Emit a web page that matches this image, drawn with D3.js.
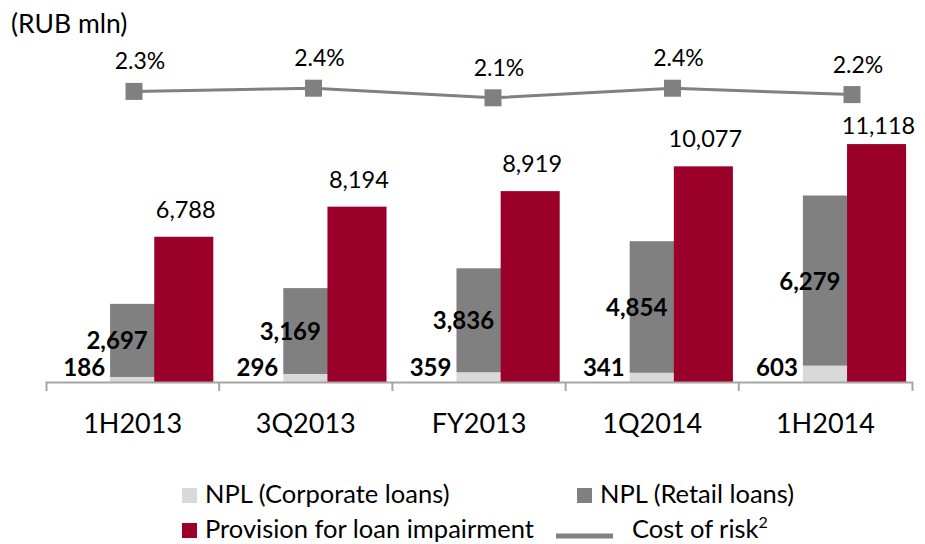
<!DOCTYPE html>
<html>
<head>
<meta charset="utf-8">
<script src="https://cdn.jsdelivr.net/npm/d3@7"></script>
<style>
  body { margin: 0; background: #fff; }
  svg { font-family: Lato, "Open Sans", sans-serif; }
</style>
</head>
<body>
<svg id="chart" width="925" height="544"></svg>
<script>
// values
var categories = ["1H2013", "3Q2013", "FY2013", "1Q2014", "1H2014"];
var nplCorporate = [186, 296, 359, 341, 603];
var nplRetail = [2697, 3169, 3836, 4854, 6279];
var provision = [6788, 8194, 8919, 10077, 11118];
var costOfRisk = [2.3, 2.4, 2.1, 2.4, 2.2];

var colCorp = "#d9d9d9";
var colRetail = "#808080";
var colProv = "#9a0029";
var colLine = "#808080";
var fmt = d3.format(",");

var svg = d3.select("#chart");

var x = d3.scaleBand().domain(categories).range([46, 912]);
var bw = x.bandwidth();
// provisions and NPL sit on two different value axes in the original
var yProv = d3.scaleLinear().domain([0, 12000]).range([382, 125.2]);
var yNpl = d3.scaleLinear().domain([0, 8000]).range([382, 165.2]);
// cost of risk line is on its own secondary axes
var xLine = d3.scalePoint().domain(categories).range([134, 852]);
var yCor = d3.scaleLinear().domain([2.0, 2.5]).range([101, 85]);

var rows = categories.map(function(c, i) {
    return {cat: c, corp: nplCorporate[i], retail: nplRetail[i], prov: provision[i], cor: costOfRisk[i]};
});

svg.append("text").attr("x", 11).attr("y", 33)
    .style("font-size", "26.5px").text("(RUB mln)");

// NPL stacked bars
var g = svg.append("g");
g.selectAll(".corp").data(rows).enter().append("rect")
    .attr("x", function(d) { return x(d.cat) + bw * 0.37; })
    .attr("width", bw * 0.26)
    .attr("y", function(d) { return yNpl(d.corp); })
    .attr("height", function(d) { return yNpl(0) - yNpl(d.corp); })
    .attr("fill", colCorp);

g.selectAll(".retail").data(rows).enter().append("rect")
    .attr("x", function(d) { return x(d.cat) + bw * 0.37; })
    .attr("width", bw * 0.26)
    .attr("y", function(d) { return yNpl(d.corp + d.retail); })
    .attr("height", function(d) { return yNpl(d.corp) - yNpl(d.corp + d.retail); })
    .attr("fill", colRetail);

g.selectAll(".prov").data(rows).enter().append("rect")
    .attr("x", function(d) { return x(d.cat) + bw * 0.625; })
    .attr("width", bw * 0.341)
    .attr("y", function(d) { return yProv(d.prov); })
    .attr("height", function(d) { return yProv(0) - yProv(d.prov); })
    .attr("fill", colProv);

// axis
var axis = svg.append("g").attr("transform", "translate(0,382)")
    .call(d3.axisBottom(x).tickSize(0).tickSizeOuter(9).tickPadding(32));
axis.select(".domain").attr("stroke", "#a6a6a6").attr("stroke-width", 2);
axis.selectAll(".tick text").style("font-size", "27px").attr("fill", "#000")
    .style("font-family", "Lato, sans-serif");
axis.selectAll(".bound").data(categories.slice(1)).enter().append("line")
    .attr("x1", function(d) { return x(d); }).attr("x2", function(d) { return x(d); })
    .attr("y1", 0).attr("y2", 9)
    .attr("stroke", "#a6a6a6").attr("stroke-width", 2);

// labels for bars
svg.selectAll(".provLbl").data(rows).enter().append("text")
    .attr("x", function(d) { return x(d.cat) + bw * 0.795 + 2; })
    .attr("y", function(d) { return Math.max(yProv(d.prov) - 19, 134); })
    .attr("text-anchor", "middle")
    .style("font-size", "23.5px")
    .text(function(d) { return fmt(d.prov); });

svg.selectAll(".retailLbl").data(rows).enter().append("text")
    .attr("x", function(d) { return x(d.cat) + bw * 0.37 + 7; })
    .attr("y", function(d) { return (yNpl(d.corp) + yNpl(d.corp + d.retail)) / 2 + 9; })
    .attr("text-anchor", "middle")
    .style("font-size", "24px").style("font-weight", "bold")
    .text(function(d) { return fmt(d.retail); });

svg.selectAll(".corpLbl").data(rows).enter().append("text")
    .attr("x", function(d) { return x(d.cat) + bw * 0.37 - 5; })
    .attr("y", 376)
    .attr("text-anchor", "end")
    .style("font-size", "24px").style("font-weight", "bold")
    .text(function(d) { return fmt(d.corp); });

// cost of risk line
var line = d3.line()
    .x(function(d) { return xLine(d.cat); })
    .y(function(d) { return yCor(d.cor); });

svg.append("path").datum(rows)
    .attr("d", line)
    .attr("fill", "none")
    .attr("stroke", colLine)
    .attr("stroke-width", 3);

svg.selectAll(".mark").data(rows).enter().append("rect")
    .attr("x", function(d) { return xLine(d.cat) - 8.5; })
    .attr("y", function(d) { return yCor(d.cor) - 8.5; })
    .attr("width", 17).attr("height", 17)
    .attr("fill", colLine);

svg.selectAll(".corLbl").data(rows).enter().append("text")
    .attr("x", function(d) { return xLine(d.cat) + 6; })
    .attr("y", function(d) { return yCor(d.cor) - 22; })
    .attr("text-anchor", "middle")
    .style("font-size", "23px")
    .text(function(d) { return d.cor.toFixed(1) + "%"; });

// legend
var leg = svg.append("g");
var items = [
    {label: "NPL (Corporate loans)", color: colCorp, lx: 182, ly: 503, type: "box"},
    {label: "NPL (Retail loans)", color: colRetail, lx: 577, ly: 503, type: "box"},
    {label: "Provision for loan impairment", color: colProv, lx: 182, ly: 538, type: "box"},
    {label: "Cost of risk", color: colLine, lx: 556, ly: 538, type: "line"}
];
items.forEach(function(it) {
    if (it.type == "box") {
        leg.append("rect").attr("x", it.lx).attr("y", it.ly - 15)
            .attr("width", 15).attr("height", 15).attr("fill", it.color);
        leg.append("text").attr("x", it.lx + 23).attr("y", it.ly)
            .style("font-size", "25.5px").text(it.label);
    } else {
        leg.append("line").attr("x1", it.lx).attr("x2", it.lx + 57)
            .attr("y1", it.ly - 2).attr("y2", it.ly - 2)
            .attr("stroke", it.color).attr("stroke-width", 5);
        var t = leg.append("text").attr("x", it.lx + 76).attr("y", it.ly)
            .style("font-size", "25.5px").text(it.label);
        t.append("tspan").attr("dy", -10).style("font-size", "16px").text("2");
    }
});
</script>
</body>
</html>
